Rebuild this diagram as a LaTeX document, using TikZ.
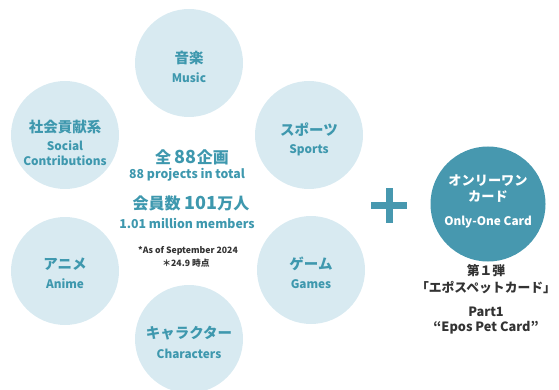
\documentclass[tikz,border=0pt]{standalone}
\usepackage{fontspec}
\setmainfont{Noto Sans CJK JP}
\definecolor{lightc}{HTML}{D8EAF1}
\definecolor{teal}{HTML}{3E98AE}
\definecolor{bigc}{HTML}{4798AF}
\definecolor{darkt}{HTML}{333333}
\tikzset{
  cat/.style={circle, fill=lightc, minimum size=108pt, inner sep=0pt},
  jp/.style={text=teal, font=\fontsize{14.5}{16}\selectfont\bfseries},
  en/.style={text=teal, font=\fontsize{11.8}{15}\selectfont\bfseries, align=center},
  ctr/.style={text=teal, font=\fontsize{12.3}{14}\selectfont\bfseries},
  note/.style={text=darkt, font=\fontsize{8.7}{10}\selectfont\bfseries},
  card/.style={text=darkt, font=\fontsize{12.8}{14}\selectfont\bfseries},
  wht/.style={text=white, font=\fontsize{13.2}{15}\selectfont\bfseries},
}
\begin{document}
\begin{tikzpicture}[x=1pt,y=-1pt]
\useasboundingbox (0,0) rectangle (559,390);
% category circles
\node[cat] (music) at (189,63) {};
\node[cat] (sports) at (309,135) {};
\node[cat] (games) at (311,270) {};
\node[cat] (chars) at (189,339) {};
\node[cat] (anime) at (65,271) {};
\node[cat] (social) at (65,135) {};
% labels
\node[jp] (musicj) at (189,58) {音楽};
\node[en] (musice) at (189,78) {Music};
\node[jp] (sportsj) at (309,130) {スポーツ};
\node[en] (sportse) at (309,150) {Sports};
\node[jp] (gamesj) at (311,264) {ゲーム};
\node[en] (gamese) at (311,284) {Games};
\node[jp] (charsj) at (189,333) {キャラクター};
\node[en] (charse) at (189,354) {Characters};
\node[jp] (animej) at (65,264) {アニメ};
\node[en] (animee) at (65,284) {Anime};
\node[jp] (socialj) at (65,127) {社会貢献系};
\node[en] (sociale) at (65,153) {Social\\Contributions};
% centre text
\node[ctr] (t1) at (192,157) {\fontsize{16}{18}\selectfont 全 {\fontsize{18}{20}\selectfont 88}企画};
\node[ctr] (t2) at (187,175) {88 projects in total};
\node[ctr] (t3) at (191,203) {\fontsize{16}{18}\selectfont 会員数 {\fontsize{18}{20}\selectfont 101}万人};
\node[ctr] (t4) at (187,223) {1.01 million members};
\node[note] (n1) at (188,251) {*As of September 2024};
\node[note] (n2) at (186,263) {＊24.9 時点};
% plus
\fill[bigc] (371,202) rectangle (407,209);
\fill[bigc] (386,188) rectangle (392.5,223);
% big circle
\node[circle, fill=bigc, minimum size=115pt, inner sep=0pt] (card) at (488,204) {};
\node[wht] (c1) at (488,181) {オンリーワン};
\node[wht] (c2) at (488,197) {カード};
\node[wht, font=\fontsize{11.8}{14}\selectfont\bfseries] (c3) at (488,222) {Only-One Card};
% below text
\node[card] (b1) at (486,271) {第１弾};
\node[card] (b2) at (486,288) {「エポスペットカード」};
\node[card] (b3) at (486,312) {Part1};
\node[card] (b4) at (486,328) {“Epos Pet Card”};
\end{tikzpicture}
\end{document}
